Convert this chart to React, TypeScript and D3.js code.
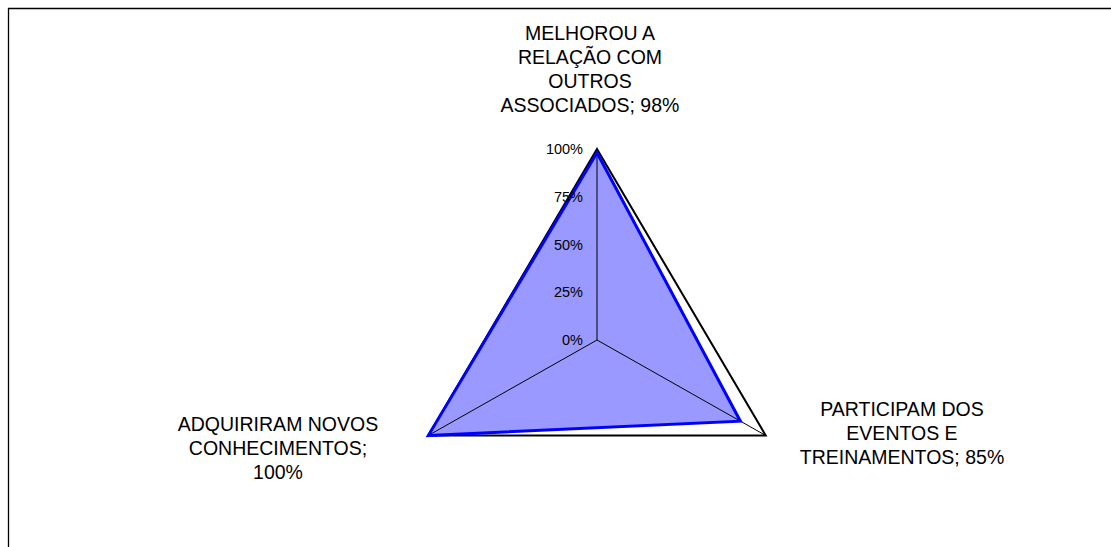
import React from "react";
import * as d3 from "d3";

const categories = ["MELHOROU A RELAÇÃO COM OUTROS ASSOCIADOS", "PARTICIPAM DOS EVENTOS E TREINAMENTOS", "ADQUIRIRAM NOVOS CONHECIMENTOS"];
const values = [0.98, 0.85, 1.0];
const tickValues = [0, 0.25, 0.5, 0.75, 1];
const tickLabels = ["0%", "25%", "50%", "75%", "100%"];
const labelLines = [
  ["MELHOROU A", "RELAÇÃO COM", "OUTROS", "ASSOCIADOS; 98%"],
  ["PARTICIPAM DOS", "EVENTOS E", "TREINAMENTOS; 85%"],
  ["ADQUIRIRAM NOVOS", "CONHECIMENTOS;", "100%"],
];

const W = 1111;
const H = 547;
const cx = 597;
const cy = 340;
const R = 191;
const xStretch = 1.02;
const labelPos = [
  { x: 590, y: 32.5 },
  { x: 902, y: 408.7 },
  { x: 278, y: 423.7 },
];
const font = "'Liberation Sans', Arial, Helvetica, sans-serif";

export default function App() {
  const r = d3.scaleLinear().domain([0, 1]).range([0, R]);
  const angle = d3.scaleLinear().domain([0, categories.length]).range([0, 2 * Math.PI]);
  const pt = (i: number, v: number): [number, number] => {
    const a = angle(i);
    return [cx + xStretch * r(v) * Math.sin(a), cy - r(v) * Math.cos(a)];
  };
  const line = d3.line<[number, number]>().curve(d3.curveLinearClosed);
  const seriesPts = values.map((v, i) => pt(i, v));
  const outerPts = categories.map((_, i) => pt(i, 1));

  return (
    <svg width={W} height={H} style={{ position: "absolute", left: 0, top: 0, background: "#fff" }}>
      <path d={`M8.5,${H} L8.5,8.5 L${W},8.5`} fill="none" stroke="#000" strokeWidth={1.3} />
      <path d={line(seriesPts) || ""} fill="#9999FF" stroke="none" />
      {categories.map((_, i) => {
        const [x, y] = pt(i, 1);
        return <line key={i} x1={cx} y1={cy} x2={x} y2={y} stroke="#000" strokeWidth={1} />;
      })}
      <path d={line(outerPts) || ""} fill="none" stroke="#000" strokeWidth={2} strokeLinejoin="miter" />
      <path d={line(seriesPts) || ""} fill="none" stroke="#0000FF" strokeWidth={3} strokeLinejoin="miter" />
      {tickValues.map((t, i) => (
        <text key={i} x={583} y={cy - r(t) + 5} textAnchor="end" fontFamily={font} fontSize={14.5} fill="#000">
          {tickLabels[i]}
        </text>
      ))}
      {labelLines.map((lines, i) => (
        <text key={i} textAnchor="middle" fontFamily={font} fontSize={19.5} fill="#000">
          {lines.map((l, j) => (
            <tspan key={j} x={labelPos[i].x} y={labelPos[i].y + j * 24 + 7}>
              {l}
            </tspan>
          ))}
        </text>
      ))}
    </svg>
  );
}
